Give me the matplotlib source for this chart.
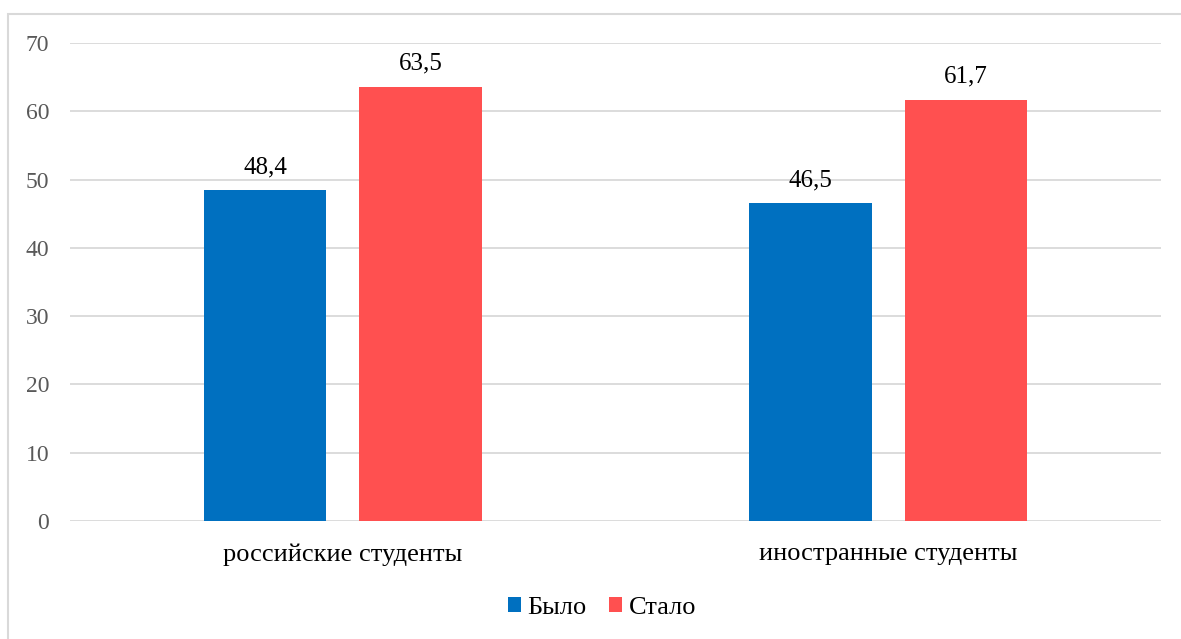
import matplotlib.pyplot as plt
import numpy as np
from matplotlib.patches import Rectangle

categories = ["российские студенты", "иностранные студенты"]
series_names = ["Было", "Стало"]
before = [48.4, 46.5]
after = [63.5, 61.7]
yticks = [0, 10, 20, 30, 40, 50, 60, 70]

colors = ["#0070C0", "#FF5050"]
plt.rcParams['font.family'] = 'serif'
plt.rcParams['font.serif'] = ['Liberation Serif', 'DejaVu Serif']

fig = plt.figure(figsize=(11.81, 6.39), dpi=100)
ax = fig.add_axes([70 / 1181, 1 - 521 / 639, (1161 - 70) / 1181, (521 - 43) / 639])

# chart area outline (left and top edges visible)
fig.patches.append(Rectangle((8 / 1181, -0.05), 1.2, 1 - 14 / 639 + 0.05,
                             transform=fig.transFigure, fill=False,
                             edgecolor="#D9D9D9", linewidth=1.5, zorder=0))

x = np.arange(len(categories))
width = 0.224
offset = 0.1425
bars1 = ax.bar(x - offset, before, width, color=colors[0], label=series_names[0], zorder=3)
bars2 = ax.bar(x + offset, after, width, color=colors[1], label=series_names[1], zorder=3)

for bars, vals in ((bars1, before), (bars2, after)):
    for b, v in zip(bars, vals):
        ax.annotate(f"{v:.1f}".replace(".", ","), (b.get_x() + b.get_width() / 2, v),
                    xytext=(0, 9), textcoords="offset points", ha="center", va="bottom",
                    fontsize=18, color="black")

ax.set_xlim(-0.5, 1.5)
ax.set_ylim(0, 70)
ax.set_yticks(yticks)
ax.set_yticklabels([str(t) for t in yticks], fontsize=17, color="#595959")
ax.set_xticks(x)
ax.set_xticklabels(categories, fontsize=19, color="black")
ax.tick_params(axis="both", length=0)
ax.tick_params(axis="y", pad=15)
ax.tick_params(axis="x", pad=16)
ax.yaxis.grid(True, color="#D9D9D9", linewidth=1.3, zorder=0)
ax.set_axisbelow(True)
for s in ax.spines.values():
    s.set_visible(False)

leg = fig.legend(handles=[bars1, bars2], labels=series_names, loc="center",
                 bbox_to_anchor=(602 / 1181, 1 - 608 / 639), ncol=2, frameon=False,
                 fontsize=19, handlelength=0.5, handleheight=0.5, handletextpad=0.25,
                 columnspacing=0.85)

fig.savefig("out.png", dpi=100)
